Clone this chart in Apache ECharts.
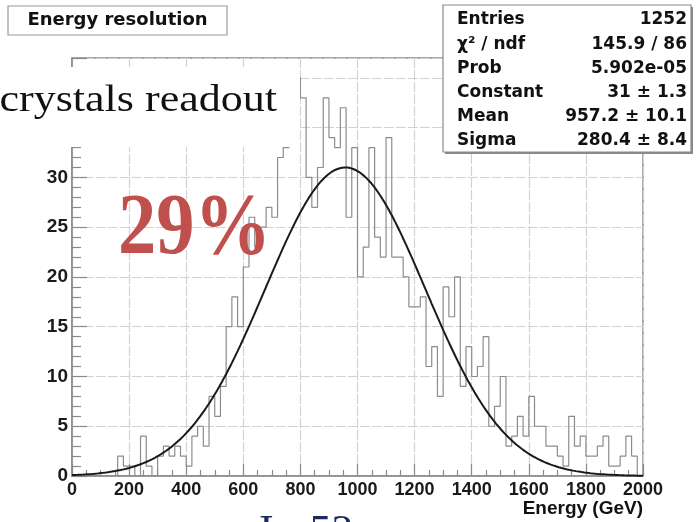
<!DOCTYPE html>
<html>
<head>
<meta charset="utf-8">
<script src="https://cdn.jsdelivr.net/npm/echarts@6/dist/echarts.min.js"></script>
<style>
  html, body { margin: 0; padding: 0; background: #ffffff; }
  #chart { width: 696px; height: 522px; }
</style>
</head>
<body>
<div id="chart"></div>
<script>
// Histogram binning (GeV)
const binLow = 0;
const binWidth = 20;

// Entries per 20 GeV bin, 0 .. 2000 GeV
const counts = [
  0, 0, 0, 0, 0, 0, 0, 0, 2, 1,
  1, 0, 4, 1, 0, 2, 3, 2, 3, 2,
  1, 4, 5, 3, 8, 6, 9, 15, 18, 15,
  21, 26, 23, 25, 27, 26, 32, 33, 35, 40,
  38, 30, 27, 31, 38, 34, 33, 37, 26, 33,
  20, 23, 33, 24, 22, 34, 22, 22, 20, 17,
  17, 18, 11, 13, 8, 19, 16, 20, 9, 13,
  10, 11, 14, 5, 7, 10, 3, 4, 6, 4,
  8, 5, 5, 3, 3, 2, 1, 6, 3, 4,
  2, 2, 3, 4, 1, 1, 2, 4, 2, 0
];

// Gaussian fit parameters
const fitConstant = 31;
const fitMean = 957.2;
const fitSigma = 280.4;

// Statistics box
const statsLabels = ['Entries', 'χ² / ndf', 'Prob', 'Constant', 'Mean', 'Sigma'];
const statsValues = ['1252', '145.9 / 86', '5.902e-05', '31 ± 1.3', '957.2 ± 10.1', '280.4 ± 8.4'];

const titleText = 'Energy resolution';
const xTitle = 'Energy (GeV)';
const noteText = 'crystals readout';
const resolutionText = '29%';
const footText = 'I= 52';

// Step outline: each bin starts at its low edge, closed at the upper end of the range
const histData = counts.map((c, i) => [binLow + i * binWidth, c]);
histData.push([binLow + counts.length * binWidth, counts[counts.length - 1]]);

// Fitted Gaussian evaluated across the axis range
const fitData = [];
for (let x = 0; x <= 2000; x += 5) {
  const z = (x - fitMean) / fitSigma;
  fitData.push([x, fitConstant * Math.exp(-0.5 * z * z)]);
}

const boxFont = '"DejaVu Sans", sans-serif';
const axisFont = '"Liberation Sans", Arial, sans-serif';
const axisGray = '#8a8a8a';
const gridStyle = { color: '#d2d2d2', width: 1.2, type: [10, 2] };

const chart = echarts.init(document.getElementById('chart'), null, { renderer: 'canvas' });

const statsGraphics = [];
statsLabels.forEach((lab, i) => {
  const y = 20 + i * 24.2;
  statsGraphics.push({
    type: 'text', z: 110, x: 457, y: y,
    style: { text: lab, font: 'bold 17px ' + boxFont, fill: '#111', textAlign: 'left', textVerticalAlign: 'middle' }
  });
  statsGraphics.push({
    type: 'text', z: 110, x: 687, y: y,
    style: { text: statsValues[i], font: 'bold 17px ' + boxFont, fill: '#111', textAlign: 'right', textVerticalAlign: 'middle' }
  });
});

chart.setOption({
  animation: false,
  backgroundColor: '#ffffff',
  grid: {
    left: 72, top: 58, width: 571, height: 418,
    show: true, borderColor: axisGray, borderWidth: 1.5, backgroundColor: 'transparent'
  },
  xAxis: {
    type: 'value', min: 0, max: 2000, interval: 200,
    axisLine: { show: true, onZero: false, lineStyle: { color: axisGray, width: 1.5 } },
    axisTick: { show: true, inside: true, length: 12, lineStyle: { color: axisGray, width: 1.2 } },
    minorTick: { show: true, splitNumber: 4, length: 6, lineStyle: { color: axisGray, width: 1.2 } },
    splitLine: { show: true, lineStyle: gridStyle },
    axisLabel: {
      margin: 5, color: '#1a1a1a', fontFamily: axisFont, fontWeight: 'bold', fontSize: 18,
      formatter: v => String(v)
    }
  },
  yAxis: {
    type: 'value', min: 0, max: 42, interval: 5,
    axisLine: { show: true, onZero: false, lineStyle: { color: axisGray, width: 1.5 } },
    axisTick: { show: true, inside: true, length: 15, lineStyle: { color: axisGray, width: 1.2 } },
    minorTick: { show: true, splitNumber: 5, length: 9, lineStyle: { color: axisGray, width: 1.2 } },
    splitLine: { show: true, lineStyle: gridStyle },
    axisLabel: {
      margin: 4, color: '#1a1a1a', fontFamily: axisFont, fontWeight: 'bold', fontSize: 19,
      showMaxLabel: false, formatter: v => String(v)
    }
  },
  series: [
    {
      type: 'line', step: 'end', data: histData, symbol: 'none',
      lineStyle: { color: '#8c8c8c', width: 1.2 }, z: 3
    },
    {
      type: 'line', data: fitData, symbol: 'none', smooth: false,
      lineStyle: { color: '#1a1a1a', width: 2 }, z: 4
    }
  ],
  graphic: [
    // panel title
    {
      type: 'rect', z: 100, shape: { x: 8, y: 6, width: 219, height: 29 },
      style: { fill: '#fff', stroke: '#9a9a9a', lineWidth: 1.2 }
    },
    {
      type: 'text', z: 101, x: 117.5, y: 20.5,
      style: { text: titleText, font: 'bold 18px ' + boxFont, fill: '#111', textAlign: 'center', textVerticalAlign: 'middle' }
    },
    // statistics box with shadow
    {
      type: 'rect', z: 100, shape: { x: 445, y: 7, width: 248, height: 147 },
      style: { fill: '#8a8a8a' }
    },
    {
      type: 'rect', z: 101, shape: { x: 443, y: 5, width: 248, height: 147 },
      style: { fill: '#fff', stroke: '#8a8a8a', lineWidth: 1.2 }
    },
    ...statsGraphics,
    // annotation band over the upper-left of the frame
    {
      type: 'rect', z: 100, shape: { x: 0, y: 67, width: 300, height: 80 },
      style: { fill: '#ffffff' }
    },
    {
      type: 'text', z: 102, x: 277, y: 101, scaleX: 1.19,
      style: { text: noteText, font: '37px "Liberation Serif", serif', fill: '#111', textAlign: 'right', textVerticalAlign: 'middle' }
    },
    {
      type: 'text', z: 102, x: 118, y: 231, scaleX: 0.89,
      style: { text: resolutionText, font: 'bold 86px "Liberation Serif", serif', fill: '#c0504d', textAlign: 'left', textVerticalAlign: 'middle' }
    },
    // axis title
    {
      type: 'text', z: 101, x: 643, y: 509,
      style: { text: xTitle, font: 'bold 19px ' + axisFont, fill: '#111', textAlign: 'right', textVerticalAlign: 'middle' }
    },
    // slide caption running off the bottom edge
    {
      type: 'text', z: 101, x: 259, y: 511,
      style: { text: footText, font: '44px "Liberation Serif", serif', fill: '#1c2a5e', textAlign: 'left', textVerticalAlign: 'top' }
    }
  ]
});
</script>
</body>
</html>
